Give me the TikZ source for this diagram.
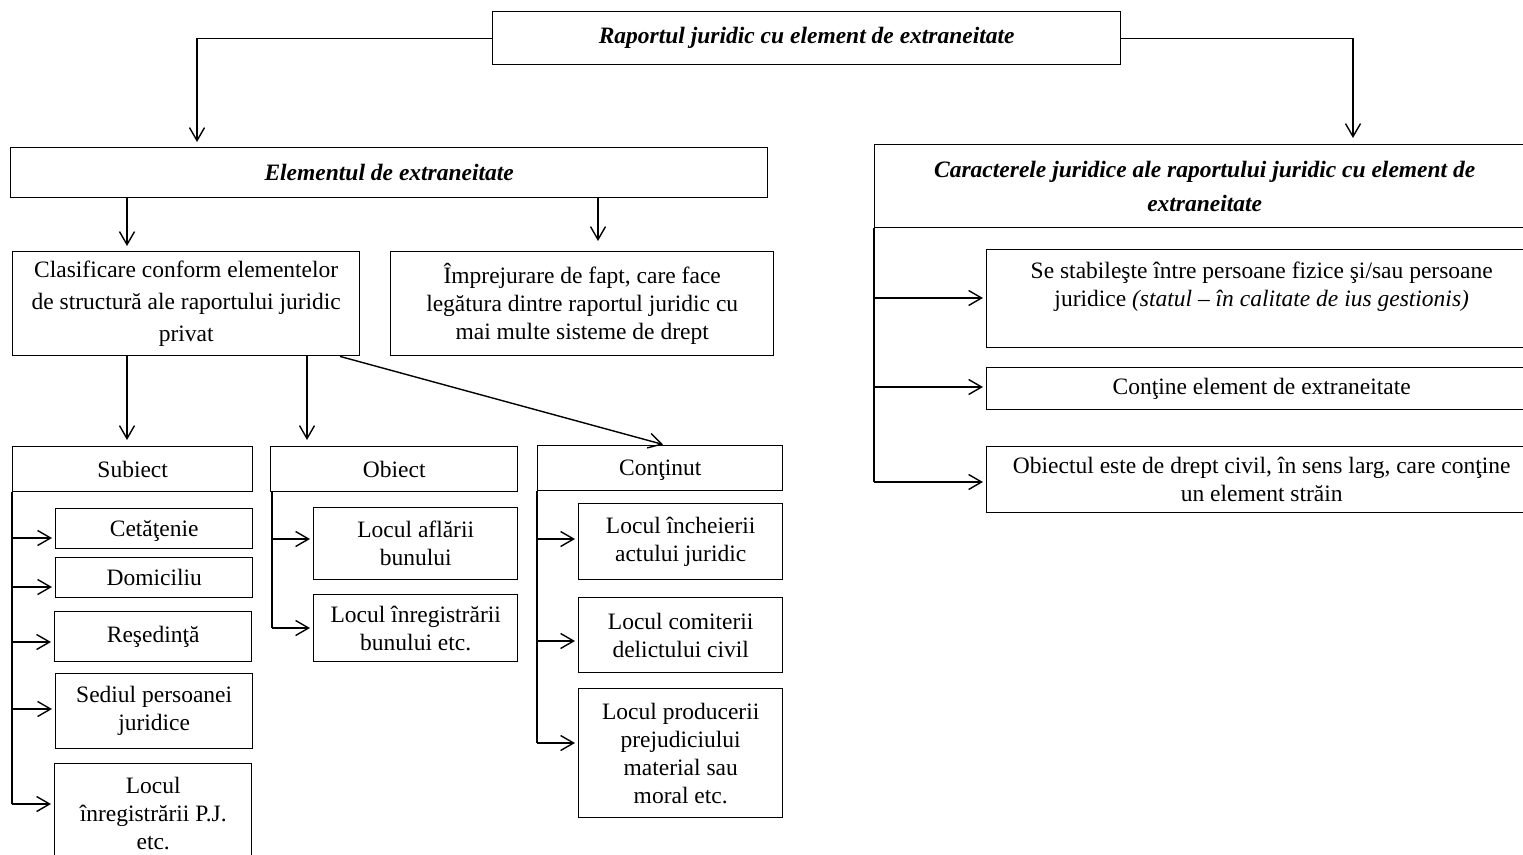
\documentclass[tikz,border=0pt]{standalone}
\usepackage{fontspec}
\setmainfont{Liberation Serif}
\usetikzlibrary{arrows.meta}
\tikzset{
  box/.style={draw, line width=1.4pt, inner sep=0pt, align=center, anchor=north west,
    font=\fontsize{23.5}{28}\selectfont},
  arr/.style={line width=1.4pt, -{Straight Barb[length=13pt,width=15pt]}},
  spine/.style={line width=1.4pt},
}
\begin{document}
\begin{tikzpicture}[x=1pt,y=-1pt]
\clip (0,0) rectangle (1523,854);
\fill[white] (0,0) rectangle (1523,854);
% top
\node[box, minimum width=628pt, minimum height=53pt] (top) at (492,11) {\textbf{\textit{Raportul juridic cu element de extraneitate}}};
\node[box, minimum width=757pt, minimum height=50pt] (elem) at (10,147) {\textbf{\textit{Elementul de extraneitate}}};
\node[box, minimum width=660pt, minimum height=83pt, font=\fontsize{23.5}{34}\selectfont] (car) at (874,144) {\textbf{\textit{Caracterele juridice ale raportului juridic cu element de}}\\\textbf{\textit{extraneitate}}};
% level 2
\node[box, minimum width=347pt, minimum height=104pt, font=\fontsize{23.5}{32}\selectfont] (clas) at (12,251) {Clasificare conform elementelor\\de structură ale raportului juridic\\privat};
\node[box, minimum width=383pt, minimum height=104pt] (impr) at (390,251) {Împrejurare de fapt, care face\\legătura dintre raportul juridic cu\\mai multe sisteme de drept};
% level 3
\node[box, minimum width=240pt, minimum height=45pt] (subj) at (12,446) {Subiect};
\node[box, minimum width=247pt, minimum height=45pt] (obj) at (270,446) {Obiect};
\node[box, minimum width=245pt, minimum height=45pt] (cont) at (537,445) {Con\smash{ţ}inut};
% subiect children
\node[box, minimum width=197pt, minimum height=40pt] (cet) at (55,508) {Cetă\smash{ţ}enie};
\node[box, minimum width=197pt, minimum height=40pt] (dom) at (55,557) {Domiciliu};
\node[box, minimum width=197pt, minimum height=50pt] (res) at (54,611) {Reşedinţă};
\node[box, minimum width=197pt, minimum height=75pt] (sed) at (55,673) {Sediul persoanei\\juridice};
\node[box, minimum width=197pt, minimum height=100pt] (lpj) at (54,763) {Locul\\înregistrării P.J.\\etc.};
% obiect children
\node[box, minimum width=204pt, minimum height=72pt] (laf) at (313,507) {Locul aflării\\bunului};
\node[box, minimum width=204pt, minimum height=67pt] (lin) at (313,594) {Locul înregistrării\\bunului etc.};
% continut children
\node[box, minimum width=204pt, minimum height=76pt] (linc) at (578,503) {Locul încheierii\\actului juridic};
\node[box, minimum width=204pt, minimum height=75pt] (lcom) at (578,597) {Locul comiterii\\delictului civil};
\node[box, minimum width=204pt, minimum height=129pt] (lprod) at (578,688) {Locul producerii\\prejudiciului\\material sau\\moral etc.};
% caractere children
\node[box, minimum width=550pt, minimum height=98pt] (c1) at (986,249) {Se stabileşte între persoane fizice şi/sau persoane\\juridice \textit{(statul – în calitate de ius gestionis)}\\\mbox{}};
\node[box, minimum width=550pt, minimum height=42pt] (c2) at (986,367) {Conţine element de extraneitate};
\node[box, minimum width=550pt, minimum height=66pt] (c3) at (986,446) {Obiectul este de drept civil, în sens larg, care conţine\\un element străin};
% helper coordinates
\coordinate (xa) at (197,0);
\coordinate (xb) at (1353,0);
\coordinate (xc) at (127,0);
\coordinate (xd) at (598,0);
\coordinate (xe) at (307,0);
\coordinate (xf) at (340,0);
\coordinate (xg) at (665,0);
% top connectors
\draw[arr, shorten >=5pt] (top.west) -| (elem.north -| xa);
\draw[arr, shorten >=6pt] (top.east) -| (car.north -| xb);
% elem connectors
\draw[arr, shorten >=5pt] (elem.south -| xc) -- (clas.north -| xc);
\draw[arr, shorten >=10pt] (elem.south -| xd) -- (impr.north -| xd);
% clas connectors
\draw[arr, shorten >=6pt] (clas.south -| xc) -- (subj.north -| xc);
\draw[arr, shorten >=6pt] (clas.south -| xe) -- (obj.north -| xe);
\draw[arr, shorten >=2pt] (clas.south -| xf) -- (cont.north -| xg);
% subiect spine
\coordinate (ys1) at (0,538);
\coordinate (ys2) at (0,587);
\coordinate (ys3) at (0,642);
\coordinate (ys4) at (0,709);
\coordinate (ys5) at (0,804);
\draw[spine] (subj.south west) -- (subj.south west |- ys5);
\draw[arr, shorten >=3pt] (subj.south west |- ys1) -- (cet.west |- ys1);
\draw[arr, shorten >=3pt] (subj.south west |- ys2) -- (dom.west |- ys2);
\draw[arr, shorten >=3pt] (subj.south west |- ys3) -- (res.west |- ys3);
\draw[arr, shorten >=3pt] (subj.south west |- ys4) -- (sed.west |- ys4);
\draw[arr, shorten >=3pt] (subj.south west |- ys5) -- (lpj.west |- ys5);
% obiect spine
\coordinate (xo) at (272,0);
\coordinate (yo1) at (0,539);
\coordinate (yo2) at (0,628);
\draw[spine] (obj.south -| xo) -- (xo |- yo2);
\draw[arr, shorten >=3pt] (xo |- yo1) -- (laf.west |- yo1);
\draw[arr, shorten >=3pt] (xo |- yo2) -- (lin.west |- yo2);
% continut spine
\coordinate (yc1) at (0,539);
\coordinate (yc2) at (0,641);
\coordinate (yc3) at (0,743);
\draw[spine] (cont.south west) -- (cont.south west |- yc3);
\draw[arr, shorten >=3pt] (cont.south west |- yc1) -- (linc.west |- yc1);
\draw[arr, shorten >=3pt] (cont.south west |- yc2) -- (lcom.west |- yc2);
\draw[arr, shorten >=3pt] (cont.south west |- yc3) -- (lprod.west |- yc3);
% caractere spine
\coordinate (yk1) at (0,298);
\coordinate (yk2) at (0,387);
\coordinate (yk3) at (0,482);
\draw[spine] (car.south west) -- (car.south west |- yk3);
\draw[arr, shorten >=3pt] (car.south west |- yk1) -- (c1.west |- yk1);
\draw[arr, shorten >=3pt] (car.south west |- yk2) -- (c2.west |- yk2);
\draw[arr, shorten >=3pt] (car.south west |- yk3) -- (c3.west |- yk3);
\end{tikzpicture}
\end{document}
